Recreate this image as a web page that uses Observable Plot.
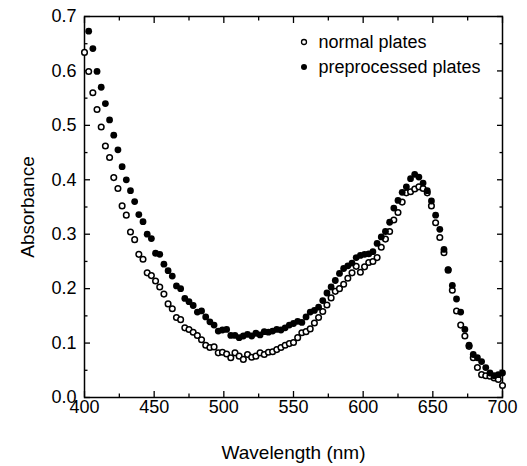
<!DOCTYPE html>
<html><head><meta charset="utf-8">
<script src="https://cdn.jsdelivr.net/npm/d3@7"></script>
<script src="https://cdn.jsdelivr.net/npm/@observablehq/plot@0.6"></script>
<style>html,body{margin:0;padding:0;background:#fff}</style>
</head><body><div id="chart"></div>
<script>
const wavelengths = [400,403,406,409,412,415,418,421,424,427,430,433,436,439,442,445,448,451,454,457,460,463,466,469,472,475,478,481,484,487,490,493,496,499,502,505,508,511,514,517,520,523,526,529,532,535,538,541,544,547,550,553,556,559,562,565,568,571,574,577,580,583,586,589,592,595,598,601,604,607,610,613,616,619,622,625,628,631,634,637,640,643,646,649,652,655,658,661,664,667,670,673,676,679,682,685,688,691,694,697,700];
const normalPlates = [0.634,0.599,0.560,0.529,0.497,0.462,0.441,0.404,0.384,0.352,0.335,0.304,0.290,0.263,0.254,0.229,0.224,0.214,0.203,0.190,0.172,0.163,0.147,0.143,0.128,0.125,0.120,0.114,0.106,0.096,0.092,0.093,0.082,0.083,0.080,0.073,0.082,0.076,0.070,0.079,0.074,0.076,0.082,0.079,0.083,0.084,0.088,0.092,0.096,0.099,0.101,0.110,0.119,0.121,0.126,0.137,0.147,0.158,0.170,0.183,0.195,0.200,0.208,0.219,0.229,0.241,0.230,0.240,0.248,0.250,0.257,0.276,0.291,0.305,0.326,0.340,0.359,0.376,0.378,0.383,0.387,0.384,0.376,0.352,0.321,0.294,0.266,0.234,0.197,0.159,0.133,0.113,0.094,0.073,0.055,0.042,0.040,0.039,0.036,0.033,0.022];
const preprocessedPlates = [null,0.673,0.641,0.599,0.570,0.540,0.510,0.482,0.455,0.424,0.400,0.380,0.360,0.336,0.323,0.300,0.292,0.265,0.263,0.245,0.233,0.223,0.205,0.200,0.182,0.176,0.169,0.157,0.159,0.148,0.139,0.133,0.122,0.124,0.125,0.114,0.114,0.110,0.113,0.116,0.113,0.118,0.115,0.121,0.120,0.122,0.125,0.124,0.128,0.133,0.136,0.140,0.138,0.148,0.157,0.160,0.166,0.178,0.192,0.203,0.215,0.228,0.237,0.242,0.247,0.257,0.261,0.263,0.264,0.268,0.283,0.295,0.305,0.322,0.348,0.362,0.377,0.387,0.402,0.410,0.405,0.394,0.380,0.361,0.335,0.309,0.272,0.235,0.206,0.181,0.157,0.125,0.096,0.079,0.073,0.066,0.055,0.045,0.040,0.042,0.045];
const xTicks = [400,450,500,550,600,650,700];
const xMinorTicks = [425,475,525,575,625,675];
const yTicks = [0,0.1,0.2,0.3,0.4,0.5,0.6,0.7];
const yMinorTicks = [0.05,0.15,0.25,0.35,0.45,0.55,0.65];
const seriesNames = ["normal plates","preprocessed plates"];
const xTitle = "Wavelength (nm)";
const yTitle = "Absorbance";

const normalRows = wavelengths.map((w,i)=>({w, a: normalPlates[i]})).filter(d=>d.a!=null);
const preRows = wavelengths.map((w,i)=>({w, a: preprocessedPlates[i]})).filter(d=>d.a!=null);

const font = '"Liberation Sans", Arial, Helvetica, sans-serif';
const chart = Plot.plot({
  width: 527, height: 466,
  marginLeft: 84, marginRight: 25, marginTop: 16, marginBottom: 69,
  style: {fontFamily: font, fontSize: "18px", color: "black", background: "white", overflow: "visible"},
  x: {domain: [400,700]},
  y: {domain: [0,0.7]},
  marks: [
    Plot.axisX(xTicks, {tickSize: 0, tickPadding: 3, tickFormat: d=>String(d), fontSize: 18, label: null}),
    Plot.axisX(xTicks, {tickSize: -6, fill: "none", label: null, strokeWidth: 1.3}),
    Plot.axisX(xMinorTicks, {tickSize: -3.5, fill: "none", label: null, strokeWidth: 1.3}),
    Plot.axisX(xTicks, {anchor: "top", tickSize: -6, fill: "none", label: null, strokeWidth: 1.3}),
    Plot.axisX(xMinorTicks, {anchor: "top", tickSize: -3.5, fill: "none", label: null, strokeWidth: 1.3}),
    Plot.axisY(yTicks, {tickSize: 0, tickPadding: 8, tickFormat: d3.format(".1f"), fontSize: 18, label: null}),
    Plot.axisY(yTicks, {tickSize: -6, fill: "none", label: null, strokeWidth: 1.3}),
    Plot.axisY(yMinorTicks, {tickSize: -3.5, fill: "none", label: null, strokeWidth: 1.3}),
    Plot.axisY(yTicks, {anchor: "right", tickSize: -6, fill: "none", label: null, strokeWidth: 1.3}),
    Plot.axisY(yMinorTicks, {anchor: "right", tickSize: -3.5, fill: "none", label: null, strokeWidth: 1.3}),
    Plot.frame({stroke: "black", strokeWidth: 1.5}),
    Plot.text([xTitle], {text: d=>d, frameAnchor: "bottom", dy: 55, lineAnchor: "middle", fontSize: 19}),
    Plot.text([yTitle], {text: d=>d, frameAnchor: "left", dx: -57, rotate: -90, lineAnchor: "middle", textAnchor: "middle", fontSize: 19}),
    Plot.dot(normalRows, {x: "w", y: "a", r: 2.8, stroke: "black", strokeWidth: 1.5, fill: "white"}),
    Plot.dot(preRows, {x: "w", y: "a", r: 3.4, fill: "black", stroke: "none"}),
    Plot.dot([seriesNames[0]], {frameAnchor: "top-left", dx: 219.5, dy: 25.5, r: 2.5, stroke: "black", strokeWidth: 1.3, fill: "white"}),
    Plot.dot([seriesNames[1]], {frameAnchor: "top-left", dx: 219.5, dy: 50.5, r: 3, fill: "black", stroke: "none"}),
    Plot.text([seriesNames[0]], {text: d=>d, frameAnchor: "top-left", dx: 234, dy: 25.5, textAnchor: "start", lineAnchor: "middle", fontSize: 18}),
    Plot.text([seriesNames[1]], {text: d=>d, frameAnchor: "top-left", dx: 234, dy: 50.5, textAnchor: "start", lineAnchor: "middle", fontSize: 18})
  ]
});
document.getElementById("chart").appendChild(chart);
</script>
</body></html>
